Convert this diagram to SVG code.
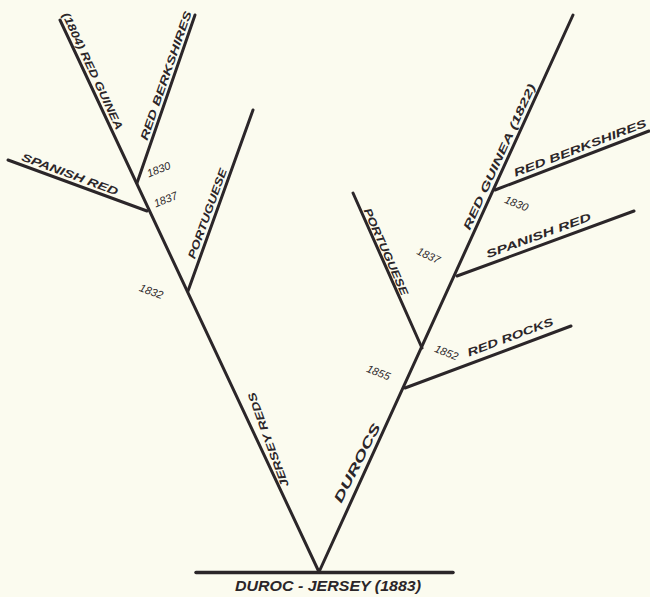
<svg xmlns="http://www.w3.org/2000/svg" width="650" height="597" viewBox="0 0 650 597">
<style>
.ln{stroke:#2b2629;stroke-width:3;stroke-linecap:round;fill:none}
.lb{font-family:"Liberation Sans",Arial,sans-serif;font-weight:bold;font-style:italic;font-size:11px;fill:#2b2629}
.yr{font-family:"Liberation Sans",Arial,sans-serif;font-style:italic;font-size:11px;fill:#2b2629}
.big{font-size:13px}
</style>
<rect width="650" height="597" fill="#fbfbef"/>
<g id="connectors">
<line class="ln" x1="196" y1="572.5" x2="453" y2="572.5" style="stroke-width:3.5"/>
<line class="ln" x1="319" y1="572" x2="60" y2="20"/>
<line class="ln" x1="137" y1="183" x2="195" y2="15"/>
<line class="ln" x1="8" y1="160" x2="147" y2="211"/>
<line class="ln" x1="188" y1="291" x2="253" y2="110"/>
<line class="ln" x1="319" y1="572" x2="573" y2="15"/>
<line class="ln" x1="422" y1="348" x2="353" y2="193"/>
<line class="ln" x1="405" y1="388" x2="571" y2="326"/>
<line class="ln" x1="457" y1="276" x2="634" y2="211"/>
<line class="ln" x1="495" y1="190" x2="649" y2="131"/>
</g>
<g id="left-red-guinea"><text class="lb" transform="translate(62,14.7) rotate(64.9)" textLength="128" lengthAdjust="spacingAndGlyphs">(1804) RED GUINEA</text></g>
<g id="left-red-berkshires"><text class="lb" transform="translate(147.2,141.1) rotate(-70.9)" textLength="136" lengthAdjust="spacingAndGlyphs">RED BERKSHIRES</text></g>
<g id="left-spanish-red"><text class="lb" transform="translate(20.7,160.3) rotate(20.15)" textLength="102" lengthAdjust="spacingAndGlyphs">SPANISH RED</text></g>
<g id="left-1830"><text class="yr" text-anchor="middle" transform="translate(160,173) rotate(-22)">1830</text></g>
<g id="left-1837"><text class="yr" text-anchor="middle" transform="translate(167,203) rotate(-22)">1837</text></g>
<g id="left-portuguese"><text class="lb" transform="translate(194.7,259.5) rotate(-70.1)" textLength="95" lengthAdjust="spacingAndGlyphs">PORTUGUESE</text></g>
<g id="left-1832"><text class="yr" text-anchor="middle" transform="translate(150,295) rotate(20)">1832</text></g>
<g id="jersey-reds"><text class="lb" text-anchor="middle" transform="translate(271.8,438.6) rotate(-110)" textLength="100" lengthAdjust="spacingAndGlyphs">JERSEY REDS</text></g>
<g id="right-portuguese"><text class="lb" transform="translate(363.4,210.3) rotate(66)" textLength="94" lengthAdjust="spacingAndGlyphs">PORTUGUESE</text></g>
<g id="right-1837"><text class="yr" text-anchor="middle" transform="translate(427,259) rotate(25)">1837</text></g>
<g id="right-red-guinea"><text class="lb" transform="translate(469.7,230.7) rotate(-65.5)" textLength="159" lengthAdjust="spacingAndGlyphs">RED GUINEA (1822)</text></g>
<g id="right-red-berkshires"><text class="lb" transform="translate(515.6,176.7) rotate(-20.96)" textLength="141" lengthAdjust="spacingAndGlyphs">RED BERKSHIRES</text></g>
<g id="right-1830"><text class="yr" text-anchor="middle" transform="translate(515,207) rotate(22)">1830</text></g>
<g id="right-spanish-red"><text class="lb" transform="translate(487.8,258.3) rotate(-20.2)" textLength="111" lengthAdjust="spacingAndGlyphs">SPANISH RED</text></g>
<g id="right-1852"><text class="yr" text-anchor="middle" transform="translate(445,356) rotate(22)">1852</text></g>
<g id="red-rocks"><text class="lb" transform="translate(469,356.5) rotate(-20.5)" textLength="91" lengthAdjust="spacingAndGlyphs">RED ROCKS</text></g>
<g id="right-1855"><text class="yr" text-anchor="middle" transform="translate(377,376) rotate(22)">1855</text></g>
<g id="durocs"><text class="lb big" text-anchor="middle" transform="translate(361,465) rotate(-63)" textLength="87" lengthAdjust="spacingAndGlyphs">DUROCS</text></g>
<g id="duroc-jersey"><text class="lb" style="font-size:14px" text-anchor="middle" x="328" y="591" textLength="186" lengthAdjust="spacingAndGlyphs">DUROC - JERSEY (1883)</text></g>
</svg>
